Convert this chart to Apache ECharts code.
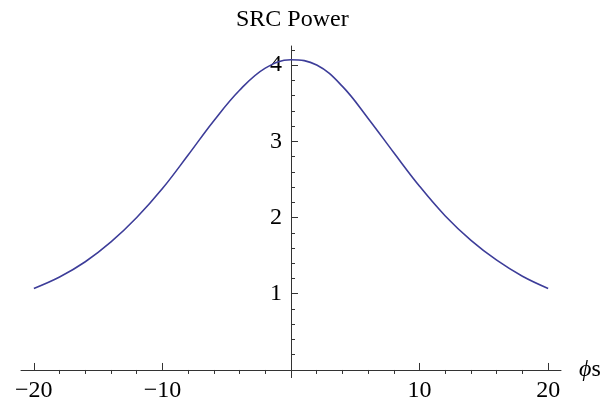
<!DOCTYPE html>
<html>
<head>
<meta charset="utf-8">
<script src="https://cdn.jsdelivr.net/npm/echarts@6/dist/echarts.min.js"></script>
<style>
  html, body { margin: 0; padding: 0; background: #ffffff; }
  #chart { width: 611px; height: 409px; }
</style>
</head>
<body>
<div id="chart"></div>
<script>
// Source power against the steering angle phi_s
const phiS  = [-20, -18, -16, -14, -12, -10, -8, -6, -4, -2, 0, 2, 4, 6, 8, 10, 12, 14, 16, 18, 20];
const power = [1.07, 1.22, 1.42, 1.68, 2.00, 2.38, 2.82, 3.27, 3.67, 3.96, 4.07, 4.00, 3.72, 3.30, 2.85, 2.41, 2.02, 1.70, 1.44, 1.23, 1.07];

// Tick positions
const xMajorTicks = [-20, -10, 10, 20];
const xMinorTicks = [-18, -16, -14, -12, -8, -6, -4, -2, 2, 4, 6, 8, 12, 14, 16, 18];
const yMajorTicks = [1, 2, 3, 4];
const yMinorTicks = [0.2, 0.4, 0.6, 0.8, 1.2, 1.4, 1.6, 1.8, 2.2, 2.4, 2.6, 2.8, 3.2, 3.4, 3.6, 3.8, 4.2];

const FONT = '"Liberation Serif", "DejaVu Serif", serif';
const AXIS_COLOR = '#333333';
const X_RANGE = [-21, 21];
const Y_RANGE = [-0.1, 4.25];

// Plot box
const GRID = { left: 21, right: 50, top: 46, bottom: 31.4 };
const CHART_W = 611;
// The vertical axis sits at phi_s = 0; shift it there from the grid's left edge
const Y_AXIS_SHIFT = -(CHART_W - GRID.left - GRID.right) * (0 - X_RANGE[0]) / (X_RANGE[1] - X_RANGE[0]);

const fmt = v => (v < 0 ? '\u2212' + Math.abs(v) : String(v));

const xAxisBase = {
  type: 'value',
  min: X_RANGE[0],
  max: X_RANGE[1],
  splitLine: { show: false }
};
const yAxisBase = {
  type: 'value',
  min: Y_RANGE[0],
  max: Y_RANGE[1],
  position: 'left',
  offset: Y_AXIS_SHIFT,
  splitLine: { show: false }
};

const chart = echarts.init(document.getElementById('chart'), null, { renderer: 'canvas' });

chart.setOption({
  animation: false,
  backgroundColor: '#ffffff',
  title: {
    text: 'SRC Power',
    left: 231,
    top: 3,
    textStyle: { fontFamily: FONT, fontSize: 24, fontWeight: 'normal', color: '#000000' }
  },
  grid: Object.assign({ containLabel: false }, GRID),
  xAxis: [
    Object.assign({}, xAxisBase, {
      axisLine: { show: true, onZero: true, onZeroAxisIndex: 0, lineStyle: { color: AXIS_COLOR, width: 1 } },
      axisTick: { show: true, inside: true, length: 7, customValues: xMajorTicks, lineStyle: { color: AXIS_COLOR } },
      axisLabel: {
        show: true, customValues: xMajorTicks, margin: 1, formatter: fmt,
        fontFamily: FONT, fontSize: 24, color: '#000000'
      },
      name: '{phi|\u03d5}s',
      nameLocation: 'end',
      nameGap: 18,
      nameTextStyle: {
        fontFamily: FONT, fontSize: 24, color: '#000000',
        rich: { phi: { fontFamily: FONT, fontSize: 24, fontStyle: 'italic', color: '#000000' } }
      }
    }),
    Object.assign({}, xAxisBase, {
      axisLine: { show: false, onZero: true, onZeroAxisIndex: 0 },
      axisTick: { show: true, inside: true, length: 4, customValues: xMinorTicks, lineStyle: { color: AXIS_COLOR } },
      axisLabel: { show: false }
    })
  ],
  yAxis: [
    Object.assign({}, yAxisBase, {
      axisLine: { show: true, onZero: false, lineStyle: { color: AXIS_COLOR, width: 1 } },
      axisTick: { show: true, inside: true, length: 7, customValues: yMajorTicks, lineStyle: { color: AXIS_COLOR } },
      axisLabel: {
        show: true, customValues: yMajorTicks, margin: 9,
        fontFamily: FONT, fontSize: 24, color: '#000000'
      }
    }),
    Object.assign({}, yAxisBase, {
      axisLine: { show: false, onZero: false },
      axisTick: { show: true, inside: true, length: 4, customValues: yMinorTicks, lineStyle: { color: AXIS_COLOR } },
      axisLabel: { show: false }
    })
  ],
  series: [{
    type: 'line',
    xAxisIndex: 0,
    yAxisIndex: 0,
    data: phiS.map((x, i) => [x, power[i]]),
    smooth: 0.4,
    showSymbol: false,
    lineStyle: { color: '#3d3d99', width: 1.6 }
  }]
});
</script>
</body>
</html>
